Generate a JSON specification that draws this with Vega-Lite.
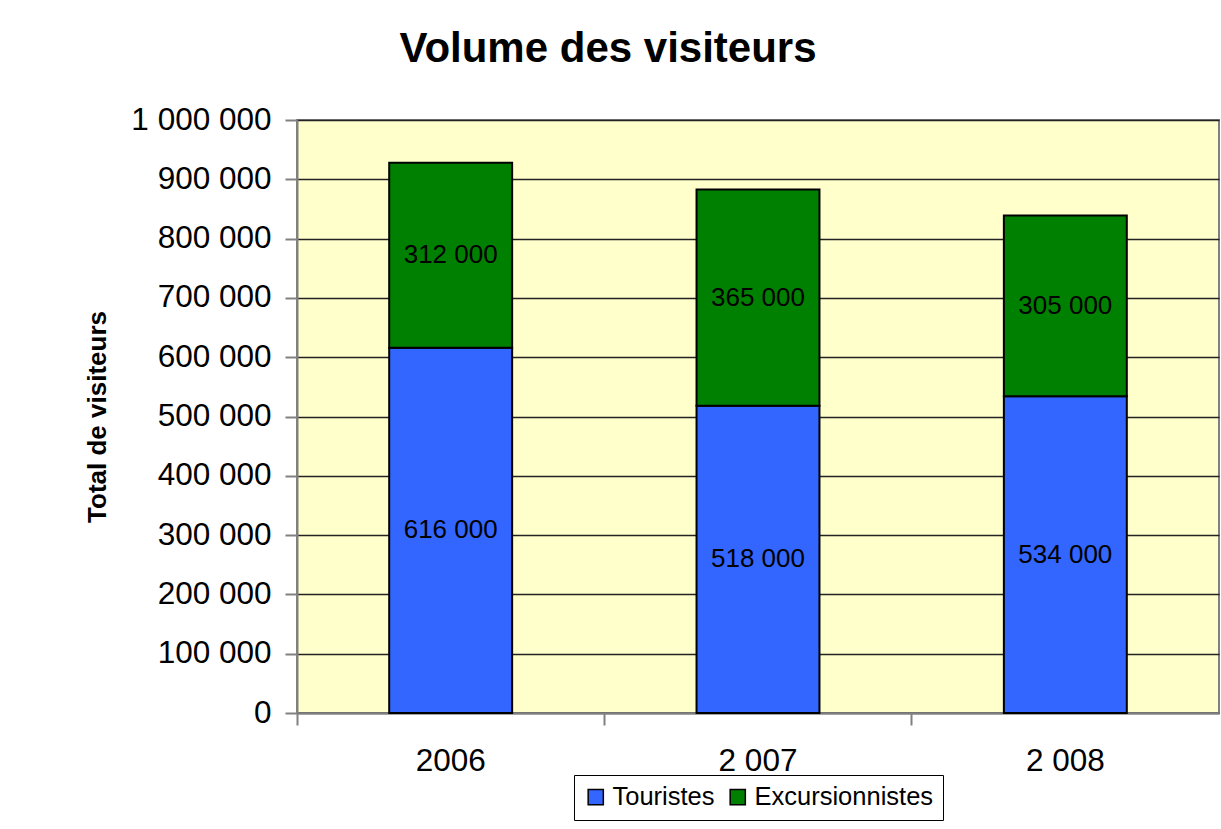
{
  "$schema": "https://vega.github.io/schema/vega-lite/v6.json",
  "autosize": {"type": "none"},
  "width": 922,
  "height": 593,
  "padding": {"left": 297, "top": 120, "right": 2, "bottom": 116},
  "background": "white",
  "config": {
    "locale": {"number": {"decimal": ",", "thousands": " ", "grouping": [3], "currency": ["", " €"]}},
    "font": "Liberation Sans",
    "view": {"fill": "#FFFFCC", "stroke": "#808080", "strokeWidth": 2},
    "axis": {"labelFont": "Liberation Sans", "titleFont": "Liberation Sans"}
  },
  "title": {
    "text": "Volume des visiteurs",
    "font": "Liberation Sans",
    "fontSize": 42,
    "fontWeight": "bold",
    "color": "black",
    "anchor": "middle",
    "frame": "group",
    "dx": -150,
    "offset": 33
  },
  "data": {
    "values": [
      {"annee": "2006", "type": "Touristes", "ordre": 1, "visiteurs": 616000},
      {"annee": "2006", "type": "Excursionnistes", "ordre": 2, "visiteurs": 312000},
      {"annee": "2 007", "type": "Touristes", "ordre": 1, "visiteurs": 518000},
      {"annee": "2 007", "type": "Excursionnistes", "ordre": 2, "visiteurs": 365000},
      {"annee": "2 008", "type": "Touristes", "ordre": 1, "visiteurs": 534000},
      {"annee": "2 008", "type": "Excursionnistes", "ordre": 2, "visiteurs": 305000}
    ]
  },
  "encoding": {
    "x": {
      "field": "annee",
      "type": "nominal",
      "sort": null,
      "scale": {"paddingInner": 0.6, "paddingOuter": 0.3},
      "axis": {
        "title": null,
        "labelAngle": 0,
        "labelFontSize": 31.5,
        "labelColor": "black",
        "labelPadding": 20,
        "bandPosition": -0.75,
        "ticks": true,
        "tickSize": 12,
        "tickColor": "#808080",
        "tickWidth": 2,
        "domainColor": "#808080",
        "domainWidth": 2,
        "grid": false
      }
    }
  },
  "layer": [
    {
      "mark": {"type": "bar", "stroke": "black", "strokeWidth": 2},
      "encoding": {
        "y": {
          "field": "visiteurs",
          "type": "quantitative",
          "stack": "zero",
          "scale": {"domain": [0, 1000000], "nice": false},
          "axis": {
            "title": "Total de visiteurs",
            "titleFontSize": 26,
            "titleFontWeight": "bold",
            "titleColor": "black",
            "titlePadding": 20,
            "values": [0, 100000, 200000, 300000, 400000, 500000, 600000, 700000, 800000, 900000, 1000000],
            "format": ",d",
            "labelFontSize": 31.5,
            "labelColor": "black",
            "labelPadding": 14,
            "tickSize": 12,
            "tickColor": "#808080",
            "tickWidth": 2,
            "domainColor": "#808080",
            "domainWidth": 2,
            "grid": true,
            "gridColor": "#222222",
            "gridWidth": 1.5
          }
        },
        "color": {
          "field": "type",
          "type": "nominal",
          "scale": {"domain": ["Touristes", "Excursionnistes"], "range": ["#3366FF", "#008000"]},
          "legend": {
            "title": null,
            "orient": "none",
            "direction": "horizontal",
            "legendX": 277,
            "legendY": 655,
            "fillColor": "white",
            "strokeColor": "black",
            "padding": 9,
            "symbolType": "square",
            "symbolSize": 230,
            "symbolStrokeColor": "black",
            "symbolStrokeWidth": 1.5,
            "symbolOpacity": 1,
            "labelFontSize": 25.5,
            "labelColor": "black",
            "labelFont": "Liberation Sans",
            "labelLimit": 0,
            "labelOffset": 4,
            "columnPadding": 10
          }
        },
        "order": {"field": "ordre", "type": "quantitative"}
      }
    },
    {
      "mark": {"type": "text", "fontSize": 26, "color": "black", "font": "Liberation Sans"},
      "encoding": {
        "y": {"field": "visiteurs", "type": "quantitative", "stack": "zero", "bandPosition": 0.5},
        "text": {"field": "visiteurs", "type": "quantitative", "format": ",d"},
        "order": {"field": "ordre", "type": "quantitative"},
        "detail": {"field": "type"}
      }
    }
  ]
}
